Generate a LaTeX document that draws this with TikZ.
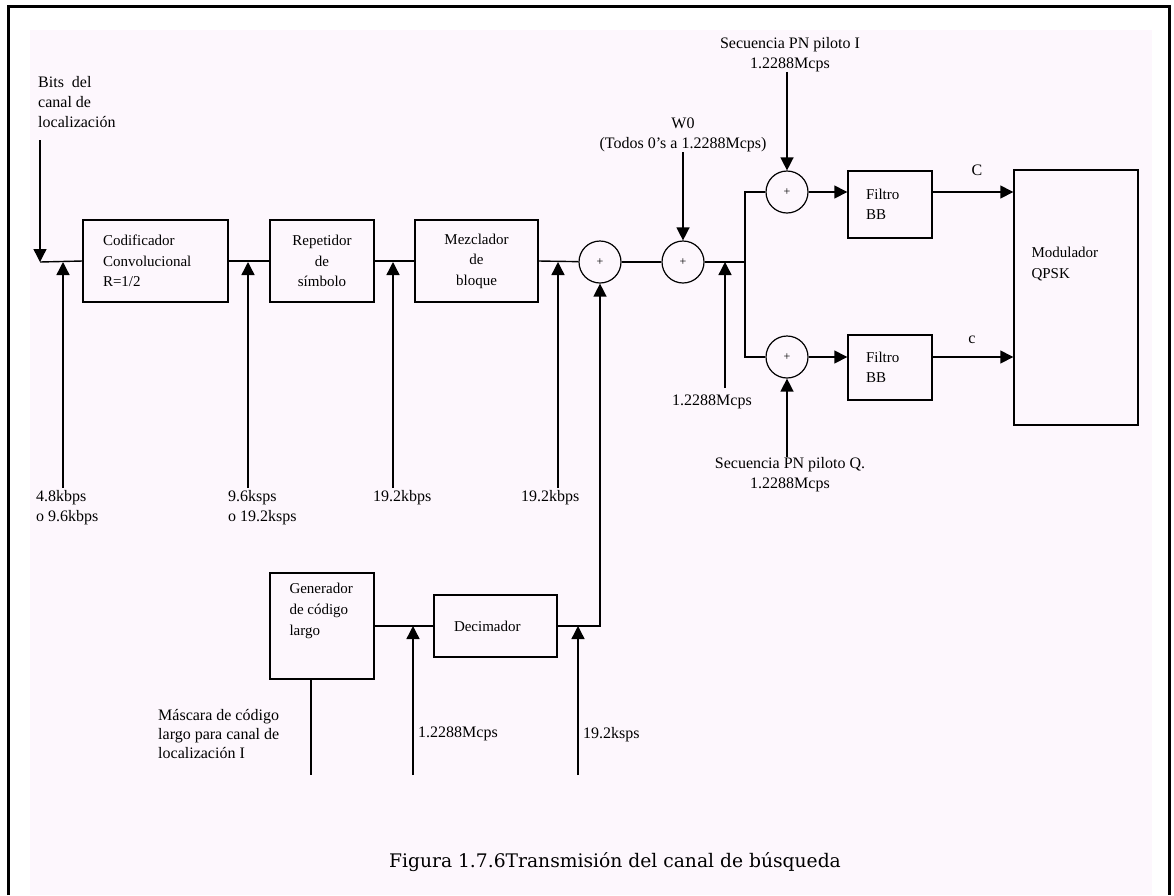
\documentclass[tikz,border=0pt]{standalone}
\usepackage{fontspec}
\setmainfont{Liberation Serif}
\newfontfamily\titfont{DejaVu Serif}
\usetikzlibrary{arrows.meta}
\definecolor{fondo}{RGB}{253,247,253}

\tikzset{
  bloque/.style={draw, line width=1.4pt, align=center, inner sep=0pt,
    font=\fontsize{15}{20.5}\selectfont},
  suma/.style={draw, circle, line width=1.2pt, minimum size=42pt, inner sep=0pt,
    font=\fontsize{12}{12}\selectfont},
  linea/.style={line width=1.4pt},
  flecha/.style={line width=1.4pt, -{Triangle[length=13pt,width=13pt]}},
  etiq/.style={inner sep=0pt, font=\fontsize{16}{20}\selectfont},
}

\begin{document}
\begin{tikzpicture}[x=1pt, y=-1pt]
  % Marco y fondo
  \useasboundingbox (0,0) rectangle (1174,895);
  \fill[fondo] (30,30) rectangle (1152,895);
  \draw[line width=3pt] (8,895) -- (8,6) -- (1169,6) -- (1169,895);

  % Bloques de la cadena principal
  \node[bloque, minimum width=145pt, minimum height=82pt, text width=105pt, align=left] (cod) at (155.5,261) {Codificador\\Convolucional\\R=1/2};
  \node[bloque, minimum width=104pt, minimum height=82pt] (rep) at (322,261) {Repetidor\\de\\símbolo};
  \node[bloque, minimum width=123pt, minimum height=82pt] (mez) at (476.5,261) {Mezclador\\de\\bloque};

  % Sumadores
  \node[suma] (x1) at (600,262) {+};
  \node[suma] (x2) at (683,262) {+};
  \node[suma] (x3) at (787,192) {+};
  \node[suma] (x4) at (787,357) {+};

  % Filtros y modulador
  \node[bloque, minimum width=84pt, minimum height=67pt, text width=48pt, align=left] (fil1) at (890,204.5) {Filtro\\BB};
  \node[bloque, minimum width=84pt, minimum height=65pt, text width=48pt, align=left] (fil2) at (890,367.5) {Filtro\\BB};
  \node[bloque, minimum width=124pt, minimum height=255pt,
    label={[align=left, inner sep=0pt, font=\fontsize{15}{21}\selectfont, anchor=west, xshift=18pt, yshift=33.5pt]west:Modulador\\QPSK}] (mod) at (1076,297.5) {};

  % Generador de codigo largo y decimador
  \node[bloque, minimum width=104pt, minimum height=106pt,
    label={[align=left, inner sep=0pt, font=\fontsize{15}{21}\selectfont, anchor=west, xshift=20pt, yshift=15pt]west:Generador\\de código\\largo}] (gen) at (322,626) {};
  \node[bloque, minimum width=123pt, minimum height=62pt, text width=83pt, align=left] (dec) at (495.5,626) {Decimador};

  % Entrada de bits
  \node[etiq, anchor=north west, align=left] (bits) at (38,76) {Bits\ \ del\\canal de\\localización};
  \coordinate (ent) at (40,140);
  \coordinate (p0) at (40,262);
  \draw[flecha] (ent) -- (p0);
  \draw[linea] (p0) -- (cod.west);

  % Cadena principal
  \draw[linea] (cod.east) -- (rep.west);
  \draw[linea] (rep.east) -- (mez.west);
  \draw[linea] (mez.east) -- (x1);
  \draw[linea] (x1) -- (x2);
  \coordinate (j) at (745,262);
  \draw[linea] (x2) -- (j);
  \draw[linea] (x3) -| (j) |- (x4);

  % Ramas I y Q
  \draw[flecha] (x3) -- (x3 -| fil1.west);
  \draw[flecha] (x4) -- (x4 -| fil2.west);
  \draw[flecha] (fil1.east |- x3) -- (mod.west |- x3);
  \draw[flecha] (fil2.east |- x4) -- (mod.west |- x4);
  \node[etiq] (lC) at (977,170) {C};
  \node[etiq] (lc) at (972,340) {c};

  % Secuencias de entrada
  \node[etiq, anchor=north, align=center] (w0) at (683,118) {W0\\(Todos 0's a 1.2288Mcps)};
  \draw[flecha] (w0.south -| x2) -- (x2);
  \node[etiq, anchor=north, align=center] (pnI) at (790,37) {Secuencia PN piloto I\\1.2288Mcps};
  \draw[flecha] (pnI.south -| x3) -- (x3);
  \node[etiq, anchor=north, align=center] (pnQ) at (790,457) {Secuencia PN piloto Q.\\1.2288Mcps};
  \draw[flecha] (pnQ.north -| x4) -- (x4);

  % Tasas de datos
  \foreach \x/\yb/\yt/\xl/\yl/\n/\t in {
      63/488/262/36/490/r1/{4.8kbps\\o 9.6kbps},
      248/488/262/228/490/r2/{9.6ksps\\o 19.2ksps},
      393/488/262/373/490/r3/{19.2kbps},
      558/488/262/521/490/r4/{19.2kbps},
      725/388/262/672/395/r5/{1.2288Mcps},
      413/775/626/418/727/r6/{1.2288Mcps},
      578/775/626/583/727/r7/{19.2ksps}} {
    \node[etiq, anchor=north west, align=left] (\n) at (\xl,\yl) {\t};
    \coordinate (b\n) at (\x,\yb);
    \coordinate (t\n) at (\x,\yt);
    \draw[flecha] (b\n) -- (t\n);
  }

  % Rama del generador
  \draw[linea] (gen.east) -- (dec.west);
  \draw[flecha] (dec.east) -| (x1.south);
  \coordinate (masc) at (311,775);
  \draw[linea] (gen.south -| masc) -- (masc);
  \node[etiq, anchor=north west, align=left, font=\fontsize{16}{19}\selectfont] (mascl) at (158,709) {Máscara de código\\largo para canal de\\localización I};

  % Titulo
  \node[font=\titfont\fontsize{18.7}{22}\selectfont] (tit) at (615,862) {Figura 1.7.6Transmisión del canal de búsqueda};
\end{tikzpicture}
\end{document}
